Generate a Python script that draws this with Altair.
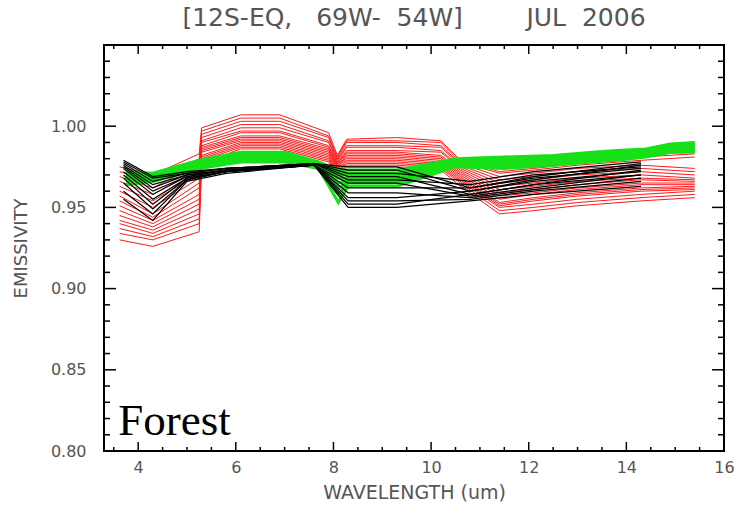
import altair as alt
import pandas as pd

# ---------------- data ----------------
red_wl = [3.62, 4.3, 5.25, 5.3, 6.1, 6.9, 7.9, 8.08, 8.27, 9.3, 10.2, 10.6, 11.4, 12.1, 13.0, 14.3, 15.4]
red_lines = [
    [0.975, 0.970, 0.983, 0.999, 1.007, 1.007, 0.996, 0.982, 0.992, 0.993, 0.991, 0.979, 0.972, 0.974, 0.977, 0.981, 0.983],
    [0.972, 0.966, 0.980, 0.997, 1.005, 1.005, 0.994, 0.981, 0.991, 0.991, 0.990, 0.978, 0.971, 0.973, 0.976, 0.979, 0.981],
    [0.969, 0.962, 0.977, 0.995, 1.003, 1.003, 0.993, 0.980, 0.990, 0.990, 0.988, 0.977, 0.969, 0.971, 0.974, 0.976, 0.974],
    [0.966, 0.958, 0.974, 0.993, 1.001, 1.001, 0.991, 0.979, 0.988, 0.988, 0.987, 0.976, 0.967, 0.969, 0.972, 0.974, 0.972],
    [0.963, 0.954, 0.971, 0.991, 0.999, 0.999, 0.990, 0.978, 0.987, 0.987, 0.985, 0.975, 0.965, 0.967, 0.970, 0.972, 0.970],
    [0.960, 0.950, 0.968, 0.990, 0.997, 0.997, 0.988, 0.977, 0.985, 0.985, 0.984, 0.974, 0.963, 0.965, 0.968, 0.970, 0.968],
    [0.957, 0.946, 0.965, 0.988, 0.996, 0.996, 0.987, 0.977, 0.984, 0.984, 0.982, 0.973, 0.961, 0.963, 0.966, 0.968, 0.967],
    [0.954, 0.944, 0.962, 0.987, 0.994, 0.994, 0.986, 0.976, 0.983, 0.983, 0.981, 0.972, 0.959, 0.961, 0.964, 0.967, 0.966],
    [0.951, 0.942, 0.958, 0.986, 0.993, 0.993, 0.985, 0.975, 0.982, 0.982, 0.980, 0.971, 0.957, 0.959, 0.962, 0.965, 0.965],
    [0.948, 0.940, 0.955, 0.985, 0.992, 0.992, 0.984, 0.975, 0.981, 0.981, 0.979, 0.970, 0.955, 0.958, 0.961, 0.964, 0.964],
    [0.945, 0.938, 0.952, 0.984, 0.991, 0.991, 0.983, 0.974, 0.980, 0.980, 0.978, 0.969, 0.953, 0.956, 0.959, 0.962, 0.963],
    [0.942, 0.936, 0.949, 0.982, 0.990, 0.990, 0.982, 0.973, 0.979, 0.979, 0.977, 0.968, 0.952, 0.955, 0.958, 0.961, 0.962],
    [0.940, 0.934, 0.946, 0.981, 0.989, 0.989, 0.981, 0.972, 0.978, 0.978, 0.976, 0.967, 0.951, 0.954, 0.957, 0.960, 0.961],
    [0.937, 0.932, 0.943, 0.980, 0.988, 0.988, 0.980, 0.972, 0.977, 0.977, 0.975, 0.966, 0.950, 0.952, 0.955, 0.958, 0.960],
    [0.934, 0.930, 0.940, 0.979, 0.987, 0.987, 0.979, 0.971, 0.976, 0.976, 0.974, 0.965, 0.948, 0.950, 0.953, 0.956, 0.958],
    [0.930, 0.926, 0.935, 0.977, 0.986, 0.986, 0.978, 0.970, 0.975, 0.975, 0.973, 0.963, 0.946, 0.948, 0.951, 0.954, 0.956],
]

black_wl = [3.7, 4.3, 5.0, 5.8, 7.6, 8.3, 9.3, 10.8, 12.1, 14.3]
black_lines = [
    [0.979, 0.969, 0.972, 0.974, 0.977, 0.975, 0.975, 0.962, 0.969, 0.977],
    [0.978, 0.968, 0.971, 0.974, 0.977, 0.973, 0.973, 0.960, 0.967, 0.976],
    [0.977, 0.966, 0.971, 0.974, 0.977, 0.971, 0.971, 0.966, 0.972, 0.978],
    [0.976, 0.964, 0.970, 0.973, 0.977, 0.969, 0.969, 0.958, 0.964, 0.973],
    [0.975, 0.962, 0.970, 0.973, 0.977, 0.967, 0.967, 0.964, 0.970, 0.975],
    [0.974, 0.960, 0.969, 0.973, 0.976, 0.965, 0.965, 0.957, 0.962, 0.970],
    [0.972, 0.958, 0.969, 0.973, 0.976, 0.962, 0.962, 0.962, 0.968, 0.974],
    [0.970, 0.955, 0.968, 0.972, 0.976, 0.959, 0.959, 0.956, 0.961, 0.968],
    [0.968, 0.952, 0.968, 0.972, 0.976, 0.956, 0.956, 0.960, 0.966, 0.972],
    [0.965, 0.949, 0.967, 0.972, 0.976, 0.954, 0.954, 0.955, 0.960, 0.966],
    [0.960, 0.946, 0.967, 0.972, 0.976, 0.952, 0.952, 0.958, 0.964, 0.970],
    [0.955, 0.942, 0.966, 0.971, 0.976, 0.950, 0.950, 0.954, 0.958, 0.963],
]

green_wl = [3.75, 4.3, 5.25, 6.1, 7.0, 7.7, 8.1, 8.3, 9.3, 10.5, 11.5, 12.5, 13.3, 13.8, 14.4, 14.9, 15.4]
green_lines = [
    [0.972, 0.971, 0.979, 0.984, 0.984, 0.978, 0.973, 0.973, 0.973, 0.980, 0.981, 0.982, 0.984, 0.985, 0.986, 0.989, 0.990],
    [0.971, 0.970, 0.978, 0.983, 0.983, 0.977, 0.972, 0.971, 0.971, 0.979, 0.980, 0.981, 0.983, 0.984, 0.985, 0.988, 0.989],
    [0.970, 0.969, 0.977, 0.982, 0.982, 0.977, 0.970, 0.970, 0.970, 0.978, 0.979, 0.980, 0.982, 0.983, 0.984, 0.987, 0.988],
    [0.969, 0.969, 0.977, 0.981, 0.981, 0.976, 0.968, 0.968, 0.968, 0.978, 0.978, 0.980, 0.981, 0.982, 0.984, 0.986, 0.987],
    [0.968, 0.968, 0.976, 0.980, 0.980, 0.976, 0.965, 0.967, 0.967, 0.977, 0.977, 0.979, 0.981, 0.982, 0.983, 0.986, 0.987],
    [0.967, 0.967, 0.975, 0.980, 0.980, 0.975, 0.962, 0.966, 0.966, 0.976, 0.976, 0.978, 0.980, 0.981, 0.982, 0.985, 0.986],
    [0.966, 0.967, 0.975, 0.979, 0.979, 0.975, 0.958, 0.965, 0.965, 0.976, 0.975, 0.977, 0.979, 0.980, 0.982, 0.984, 0.985],
    [0.964, 0.966, 0.974, 0.978, 0.978, 0.974, 0.953, 0.963, 0.963, 0.975, 0.974, 0.976, 0.978, 0.979, 0.981, 0.984, 0.984],
]

x_major = [4, 6, 8, 10, 12, 14, 16]
x_minor = [3.5, 4.5, 5.0, 5.5, 6.5, 7.0, 7.5, 8.5, 9.0, 9.5, 10.5, 11.0, 11.5,
           12.5, 13.0, 13.5, 14.5, 15.0, 15.5]
y_major = [0.80, 0.85, 0.90, 0.95, 1.00]
y_minor = [0.81, 0.82, 0.83, 0.84, 0.86, 0.87, 0.88, 0.89, 0.91, 0.92, 0.93, 0.94,
           0.96, 0.97, 0.98, 0.99, 1.01, 1.02, 1.03, 1.04]

NB = "\u00a0"
title_text = "[12S-EQ," + NB * 3 + "69W-" + NB * 2 + "54W]" + NB * 8 + "JUL" + NB * 2 + "2006"
note_text = ["Forest"]
note_x = [3.59]
note_y = [0.810]

# ---------------- build ----------------
W, H = 620, 406
xscale = alt.Scale(domain=[3.3, 16], nice=False, zero=False)
yscale = alt.Scale(domain=[0.80, 1.05], nice=False, zero=False)


def long_df(wl, lines, tag):
    rows = []
    for i, vals in enumerate(lines):
        for w, v in zip(wl, vals):
            rows.append({"line": f"{tag}{i}", "wl": w, "em": v})
    return pd.DataFrame(rows)


red_df = long_df(red_wl, red_lines, "r")
black_df = long_df(black_wl, black_lines, "b")
green_df = long_df(green_wl, green_lines, "g")

lbl_font = "DejaVu Sans"
lbl_color = "#555555"

x_axis = alt.Axis(values=x_major, format="d", title="WAVELENGTH (um)",
                  ticks=False, tickSize=0, domain=False, grid=False,
                  labelFlush=False, labelOverlap=False, labelPadding=8,
                  labelFont=lbl_font, labelFontSize=16, labelColor=lbl_color,
                  titleFont=lbl_font, titleFontSize=19, titleFontWeight="normal",
                  titleColor=lbl_color, titlePadding=8)
y_axis = alt.Axis(values=y_major, format=".2f", title="EMISSIVITY",
                  ticks=False, tickSize=0, domain=False, grid=False,
                  labelOverlap=False, labelPadding=18,
                  labelFont=lbl_font, labelFontSize=16, labelColor=lbl_color,
                  titleFont=lbl_font, titleFontSize=18, titleFontWeight="normal",
                  titleColor=lbl_color, titlePadding=20)

X = alt.X("wl:Q", scale=xscale, axis=x_axis)
Y = alt.Y("em:Q", scale=yscale, axis=y_axis)

red = alt.Chart(red_df).mark_line(color="#ff1a1a", strokeWidth=1).encode(
    x=X, y=Y, detail="line:N")
green = alt.Chart(green_df).mark_line(color="#18e018", strokeWidth=3).encode(
    x=X, y=Y, detail="line:N")
black = alt.Chart(black_df).mark_line(color="#000000", strokeWidth=1.2).encode(
    x=X, y=Y, detail="line:N")

xmaj = pd.DataFrame({"wl": x_major})
xmin = pd.DataFrame({"wl": x_minor})
ymaj = pd.DataFrame({"em": y_major})
ymin = pd.DataFrame({"em": y_minor})

tick_style = dict(color="black", strokeWidth=1.5)
ticks = [
    alt.Chart(xmaj).mark_rule(**tick_style).encode(x=X, y=alt.value(H), y2=alt.value(H - 9)),
    alt.Chart(xmin).mark_rule(**tick_style).encode(x=X, y=alt.value(H), y2=alt.value(H - 4)),
    alt.Chart(xmaj).mark_rule(**tick_style).encode(x=X, y=alt.value(0), y2=alt.value(9)),
    alt.Chart(xmin).mark_rule(**tick_style).encode(x=X, y=alt.value(0), y2=alt.value(4)),
    alt.Chart(ymaj).mark_rule(**tick_style).encode(y=Y, x=alt.value(0), x2=alt.value(12)),
    alt.Chart(ymin).mark_rule(**tick_style).encode(y=Y, x=alt.value(0), x2=alt.value(6)),
    alt.Chart(ymaj).mark_rule(**tick_style).encode(y=Y, x=alt.value(W), x2=alt.value(W - 12)),
    alt.Chart(ymin).mark_rule(**tick_style).encode(y=Y, x=alt.value(W), x2=alt.value(W - 6)),
]

note_df = pd.DataFrame({"txt": note_text, "wl": note_x, "em": note_y})
note = alt.Chart(note_df).mark_text(
    font="Liberation Serif", fontSize=45, color="black", align="left",
    baseline="alphabetic").encode(x=X, y=Y, text="txt:N")

chart = alt.layer(red, green, black, *ticks, note).properties(
    width=W, height=H,
    title=alt.TitleParams(title_text, font=lbl_font, fontSize=25,
                          fontWeight="normal", color=lbl_color, offset=13,
                          anchor="middle"),
    autosize=alt.AutoSizeParams(type="none"),
    padding={"left": 104, "top": 45, "right": 21, "bottom": 65},
    background="white",
).configure_view(stroke="black", strokeWidth=2)

chart.save("out.html", embed_options={"renderer": "svg", "actions": False})
